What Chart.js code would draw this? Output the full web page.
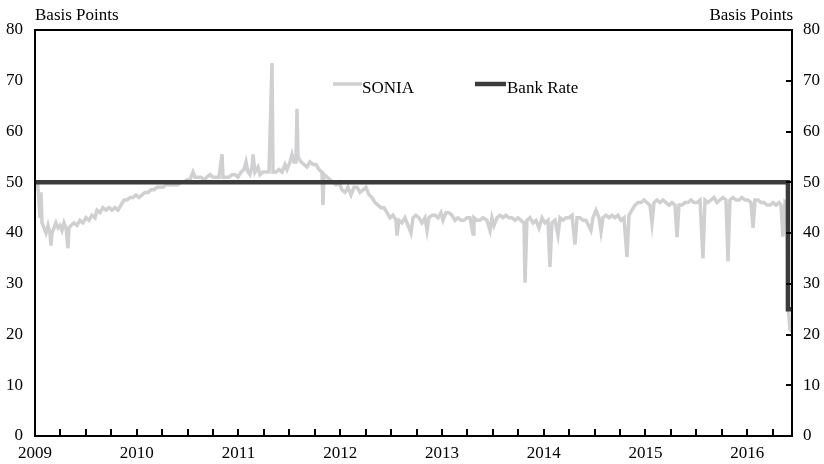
<!DOCTYPE html>
<html>
<head>
<meta charset="utf-8">
<script src="https://cdn.jsdelivr.net/npm/chart.js@4.4.1/dist/chart.umd.min.js"></script>
<style>
  html, body { margin: 0; padding: 0; background: #fff; }
</style>
</head>
<body>
<canvas id="chart" width="824" height="464"></canvas>
<script>
// Year labels on the x axis, value ticks on both y axes
const yearTicks = [2009, 2010, 2011, 2012, 2013, 2014, 2015, 2016];
const valueTicks = [0, 10, 20, 30, 40, 50, 60, 70, 80];

// SONIA, basis points (dates as decimal years)
const soniaYears = [
  2009.020, 2009.029, 2009.039, 2009.049, 2009.059, 2009.069, 2009.088, 2009.108, 2009.128, 2009.147,
  2009.157, 2009.167, 2009.187, 2009.206, 2009.226, 2009.246, 2009.265, 2009.285, 2009.305, 2009.324,
  2009.334, 2009.354, 2009.383, 2009.413, 2009.442, 2009.472, 2009.501, 2009.531, 2009.560, 2009.590,
  2009.609, 2009.639, 2009.668, 2009.698, 2009.727, 2009.757, 2009.786, 2009.816, 2009.845, 2009.875,
  2009.904, 2009.934, 2009.963, 2009.993, 2010.022, 2010.052, 2010.081, 2010.111, 2010.140, 2010.170,
  2010.199, 2010.229, 2010.258, 2010.287, 2010.317, 2010.346, 2010.376, 2010.405, 2010.435, 2010.464,
  2010.494, 2010.523, 2010.553, 2010.572, 2010.602, 2010.631, 2010.661, 2010.690, 2010.720, 2010.749,
  2010.779, 2010.808, 2010.838, 2010.848, 2010.877, 2010.907, 2010.936, 2010.966, 2010.995, 2011.025,
  2011.054, 2011.074, 2011.093, 2011.113, 2011.133, 2011.143, 2011.162, 2011.192, 2011.211, 2011.241,
  2011.270, 2011.300, 2011.329, 2011.339, 2011.369, 2011.398, 2011.428, 2011.457, 2011.477, 2011.506,
  2011.526, 2011.545, 2011.565, 2011.575, 2011.585, 2011.614, 2011.644, 2011.673, 2011.703, 2011.732,
  2011.762, 2011.791, 2011.821, 2011.830, 2011.840, 2011.870, 2011.899, 2011.929, 2011.958, 2011.988,
  2012.017, 2012.047, 2012.076, 2012.106, 2012.135, 2012.165, 2012.194, 2012.224, 2012.253, 2012.283,
  2012.312, 2012.342, 2012.371, 2012.400, 2012.430, 2012.459, 2012.489, 2012.518, 2012.548, 2012.558,
  2012.577, 2012.607, 2012.636, 2012.666, 2012.695, 2012.715, 2012.744, 2012.774, 2012.803, 2012.833,
  2012.853, 2012.872, 2012.902, 2012.931, 2012.961, 2012.990, 2013.010, 2013.039, 2013.069, 2013.098,
  2013.128, 2013.157, 2013.187, 2013.216, 2013.246, 2013.275, 2013.305, 2013.314, 2013.344, 2013.373,
  2013.403, 2013.442, 2013.472, 2013.491, 2013.511, 2013.541, 2013.570, 2013.600, 2013.629, 2013.658,
  2013.688, 2013.717, 2013.747, 2013.776, 2013.806, 2013.816, 2013.835, 2013.865, 2013.894, 2013.924,
  2013.953, 2013.983, 2014.012, 2014.042, 2014.061, 2014.081, 2014.111, 2014.140, 2014.160, 2014.189,
  2014.219, 2014.248, 2014.278, 2014.307, 2014.327, 2014.356, 2014.386, 2014.415, 2014.464, 2014.484,
  2014.514, 2014.543, 2014.563, 2014.582, 2014.612, 2014.641, 2014.671, 2014.700, 2014.730, 2014.759,
  2014.789, 2014.818, 2014.838, 2014.867, 2014.897, 2014.926, 2014.956, 2014.985, 2015.015, 2015.044,
  2015.064, 2015.084, 2015.113, 2015.143, 2015.172, 2015.201, 2015.231, 2015.260, 2015.290, 2015.310,
  2015.329, 2015.359, 2015.388, 2015.418, 2015.447, 2015.477, 2015.506, 2015.536, 2015.565, 2015.585,
  2015.614, 2015.644, 2015.673, 2015.703, 2015.732, 2015.762, 2015.791, 2015.811, 2015.830, 2015.860,
  2015.889, 2015.919, 2015.948, 2015.978, 2016.007, 2016.037, 2016.057, 2016.076, 2016.106, 2016.135,
  2016.165, 2016.194, 2016.224, 2016.253, 2016.283, 2016.312, 2016.332, 2016.351, 2016.371, 2016.391,
  2016.405, 2016.420, 2016.440
];
const soniaValues = [
  50, 49, 46, 43, 48, 42, 41, 40, 41.5, 40,
  37.5, 40, 41, 42, 41, 41.5, 40.5, 42, 41, 37,
  41, 41.5, 42, 41.5, 42.5, 42, 43, 42.5, 43.5, 43,
  44.5, 44, 45, 44.5, 45, 44.5, 45, 44.5, 45.5, 46.5,
  46.5, 47, 47, 47.5, 47, 47.5, 48, 48, 48.5, 48.5,
  49, 49, 49, 49.5, 49.5, 49.5, 49.5, 49.5, 50, 50,
  50.5, 50.5, 52, 51, 51, 51, 50.5, 51, 51.5, 51,
  51, 51, 55.5, 51, 51, 51, 51.5, 51.5, 51, 52,
  52.5, 54, 52, 51.5, 53, 55.5, 52, 53, 51.5, 52,
  52, 52, 73.5, 52, 52, 52.5, 52, 53.5, 52.5, 54,
  55.5, 54, 54, 64.5, 55, 54, 53.5, 53, 54, 53.5,
  53.5, 52.5, 52, 45.5, 51.5, 51, 50.5, 50, 49.5, 50,
  48.5, 48, 49, 47.5, 49, 49, 48, 48.5, 49, 47.5,
  47, 46, 45.5, 45, 45, 44, 43, 43.5, 42.5, 39.5,
  42.5, 42, 43, 41.5, 40, 43, 43.5, 43, 42, 43,
  40.5, 43, 43.5, 43.5, 43, 44, 42.5, 44, 44, 43.5,
  42.5, 43, 42.5, 42.5, 43, 43, 39.8, 43, 42.5, 42.5,
  43, 42.5, 40.5, 43, 41.5, 43, 43.5, 43, 43.5, 43,
  43, 42.5, 43, 42.5, 42, 30.2, 42.5, 43, 42, 42.5,
  41, 43, 42, 42.5, 33.3, 42, 42.5, 39.6, 43, 42.5,
  43, 43, 43.5, 37.7, 43, 43, 42.5, 42.5, 40.5, 43,
  44.5, 43, 40.3, 43, 43.5, 43, 43.5, 43, 43.5, 42.5,
  43, 35.3, 43.5, 44.5, 45.5, 46, 46, 46.5, 46, 45.5,
  42, 46, 46.5, 46, 46.5, 46, 45.5, 46, 45.5, 39.2,
  45.5, 45.5, 46, 46, 46.5, 46, 46, 46.5, 35, 46.5,
  46, 46.5, 47, 46, 46.5, 47, 46.5, 34.4, 46.5, 47,
  46.5, 46.5, 47, 46.5, 46.5, 46, 41, 46.5, 46.5, 46,
  46, 45.5, 45.5, 46, 45.5, 46, 45.5, 39.3, 46, 45.5,
  24.5, 21, 20.5
];

// Bank Rate, basis points
const bankYears = [2009.0, 2016.400, 2016.400, 2016.440];
const bankValues = [50, 50, 25, 25];

const FONT = { family: '"Liberation Serif", "DejaVu Serif", serif', size: 17 };

const toPoints = (xs, ys) => xs.map((x, i) => ({ x, y: ys[i] }));

const framePlugin = {
  id: 'frame',
  afterDatasetsDraw(chart) {
    const { ctx, chartArea: a, scales } = chart;
    ctx.save();
    ctx.strokeStyle = '#000';
    ctx.lineWidth = 2;
    ctx.strokeRect(a.left, a.top, a.right - a.left, a.bottom - a.top);

    // inward tick marks: quarterly on the x axis, every 10bp on the right axis
    ctx.beginPath();
    for (let q = 2009; q <= 2016.44; q += 0.25) {
      const px = Math.round(scales.x.getPixelForValue(q));
      ctx.moveTo(px, a.bottom);
      ctx.lineTo(px, a.bottom - 7);
    }
    valueTicks.forEach(v => {
      const py = Math.round(scales.y2.getPixelForValue(v));
      ctx.moveTo(a.right, py);
      ctx.lineTo(a.right - 6, py);
    });
    ctx.stroke();

    // axis titles
    ctx.fillStyle = '#000';
    ctx.font = `${FONT.size}px ${FONT.family}`;
    ctx.textBaseline = 'alphabetic';
    ctx.textAlign = 'left';
    ctx.fillText('Basis Points', a.left, 20);
    ctx.textAlign = 'right';
    ctx.fillText('Basis Points', a.right + 1, 20);

    // legend
    ctx.textAlign = 'left';
    ctx.lineWidth = 3.5;
    ctx.strokeStyle = '#d0d0d2';
    ctx.beginPath(); ctx.moveTo(333, 84); ctx.lineTo(362, 84); ctx.stroke();
    ctx.fillText('SONIA', 362, 93);
    ctx.lineWidth = 4.5;
    ctx.strokeStyle = '#3c3c3c';
    ctx.beginPath(); ctx.moveTo(475, 84); ctx.lineTo(506, 84); ctx.stroke();
    ctx.fillText('Bank Rate', 507, 93);
    ctx.restore();
  }
};

new Chart(document.getElementById('chart'), {
  type: 'line',
  data: {
    datasets: [
      { label: 'Bank Rate', data: toPoints(bankYears, bankValues), borderColor: '#3c3c3c', borderWidth: 4.5, pointRadius: 0, yAxisID: 'y' },
      { label: 'SONIA', data: toPoints(soniaYears, soniaValues), borderColor: '#d0d0d2', borderWidth: 3.5, pointRadius: 0, yAxisID: 'y' }
    ]
  },
  options: {
    responsive: false,
    devicePixelRatio: 1,
    animation: false,
    layout: { padding: { top: 30 } },
    plugins: { legend: { display: false }, tooltip: { enabled: false } },
    scales: {
      x: {
        type: 'linear', min: 2009, max: 2016.44,
        afterBuildTicks: s => { s.ticks = yearTicks.map(v => ({ value: v })); },
        afterFit: s => { s.height = 28; },
        grid: { display: false }, border: { display: false },
        ticks: { color: '#000', font: FONT, padding: -1, maxRotation: 0, autoSkip: false, callback: v => String(v) }
      },
      y: {
        position: 'left', min: 0, max: 80,
        afterFit: s => { s.width = 35; },
        grid: { display: false }, border: { display: false },
        ticks: { color: '#000', font: FONT, stepSize: 10, padding: 4 }
      },
      y2: {
        position: 'right', min: 0, max: 80,
        afterFit: s => { s.width = 32; },
        grid: { display: false }, border: { display: false },
        ticks: { color: '#000', font: FONT, stepSize: 10, padding: 3 }
      }
    }
  },
  plugins: [framePlugin]
});
</script>
</body>
</html>
